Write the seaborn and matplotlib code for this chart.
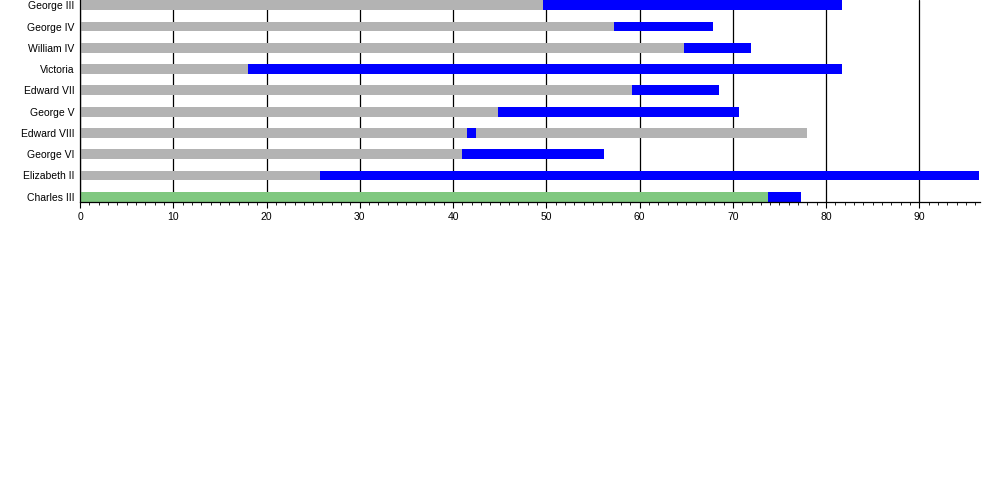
import numpy as np
import pandas as pd
import matplotlib
matplotlib.use("Agg")
import matplotlib.pyplot as plt
from matplotlib.ticker import MultipleLocator
import seaborn as sns

# Ages
monarchs = ["George III", "George IV", "William IV", "Victoria", "Edward VII",
            "George V", "Edward VIII", "George VI", "Elizabeth II", "Charles III"]
age_at_accession = [49.6, 57.3, 64.8, 18.0, 59.2, 44.8, 41.5, 41.0, 25.7, 73.8]
age_at_reign_end = [81.7, 67.9, 71.9, 81.7, 68.5, 70.7, 42.5, 56.2, 96.4, 77.3]
age_at_death = [81.7, 67.9, 71.9, 81.7, 68.5, 70.7, 78.0, 56.2, 96.4, 77.3]

GREY = "#b3b3b3"
BLUE = "#0000ff"
GREEN = "#80c880"

df = pd.DataFrame({
    "monarch": monarchs,
    "accession": age_at_accession,
    "reign_end": age_at_reign_end,
    "death": age_at_death,
})

sns.set_style("white")
plt.rcParams["font.family"] = ["Liberation Sans", "DejaVu Sans"]
plt.rcParams["text.color"] = "black"
plt.rcParams["xtick.color"] = "black"
plt.rcParams["ytick.color"] = "black"

fig = plt.figure(figsize=(10, 5), dpi=100)
ax = fig.add_axes([0.08, 0.596, 0.90, 0.404])

bar_w = 0.46
bar_kw = dict(width=bar_w, saturation=1, orient="h", linewidth=0, ax=ax, zorder=2)
# life after abdication (grey), reign (blue), life before accession (grey / green)
sns.barplot(data=df, x="death", y="monarch", color=GREY, **bar_kw)
sns.barplot(data=df, x="reign_end", y="monarch", color=BLUE, **bar_kw)
pre_pal = {m: GREY for m in monarchs}
pre_pal["Charles III"] = GREEN
sns.barplot(data=df, x="accession", y="monarch", hue="monarch", palette=pre_pal,
            legend=False, **bar_kw)

ax.set_xlim(0, 96.5)
ax.set_ylim(9.25, -0.25)
ax.set_xlabel("")
ax.set_ylabel("")

ax.xaxis.set_major_locator(MultipleLocator(10))
ax.xaxis.set_minor_locator(MultipleLocator(1))
ax.tick_params(axis="x", which="major", direction="out", length=4, width=0.8,
               color="black", labelcolor="black", labelsize=7.5, pad=3, bottom=True)
ax.tick_params(axis="x", which="minor", direction="out", length=2, width=0.6,
               color="black", bottom=True)
ax.tick_params(axis="y", length=0, labelsize=7.5, labelcolor="black", pad=4)

ax.grid(axis="x", which="major", color="black", linewidth=0.9, zorder=0)
ax.set_axisbelow(True)
for s in ["top", "right"]:
    ax.spines[s].set_visible(False)
for s in ["left", "bottom"]:
    ax.spines[s].set_color("black")
    ax.spines[s].set_linewidth(0.9)

fig.savefig("out.png", dpi=100)
